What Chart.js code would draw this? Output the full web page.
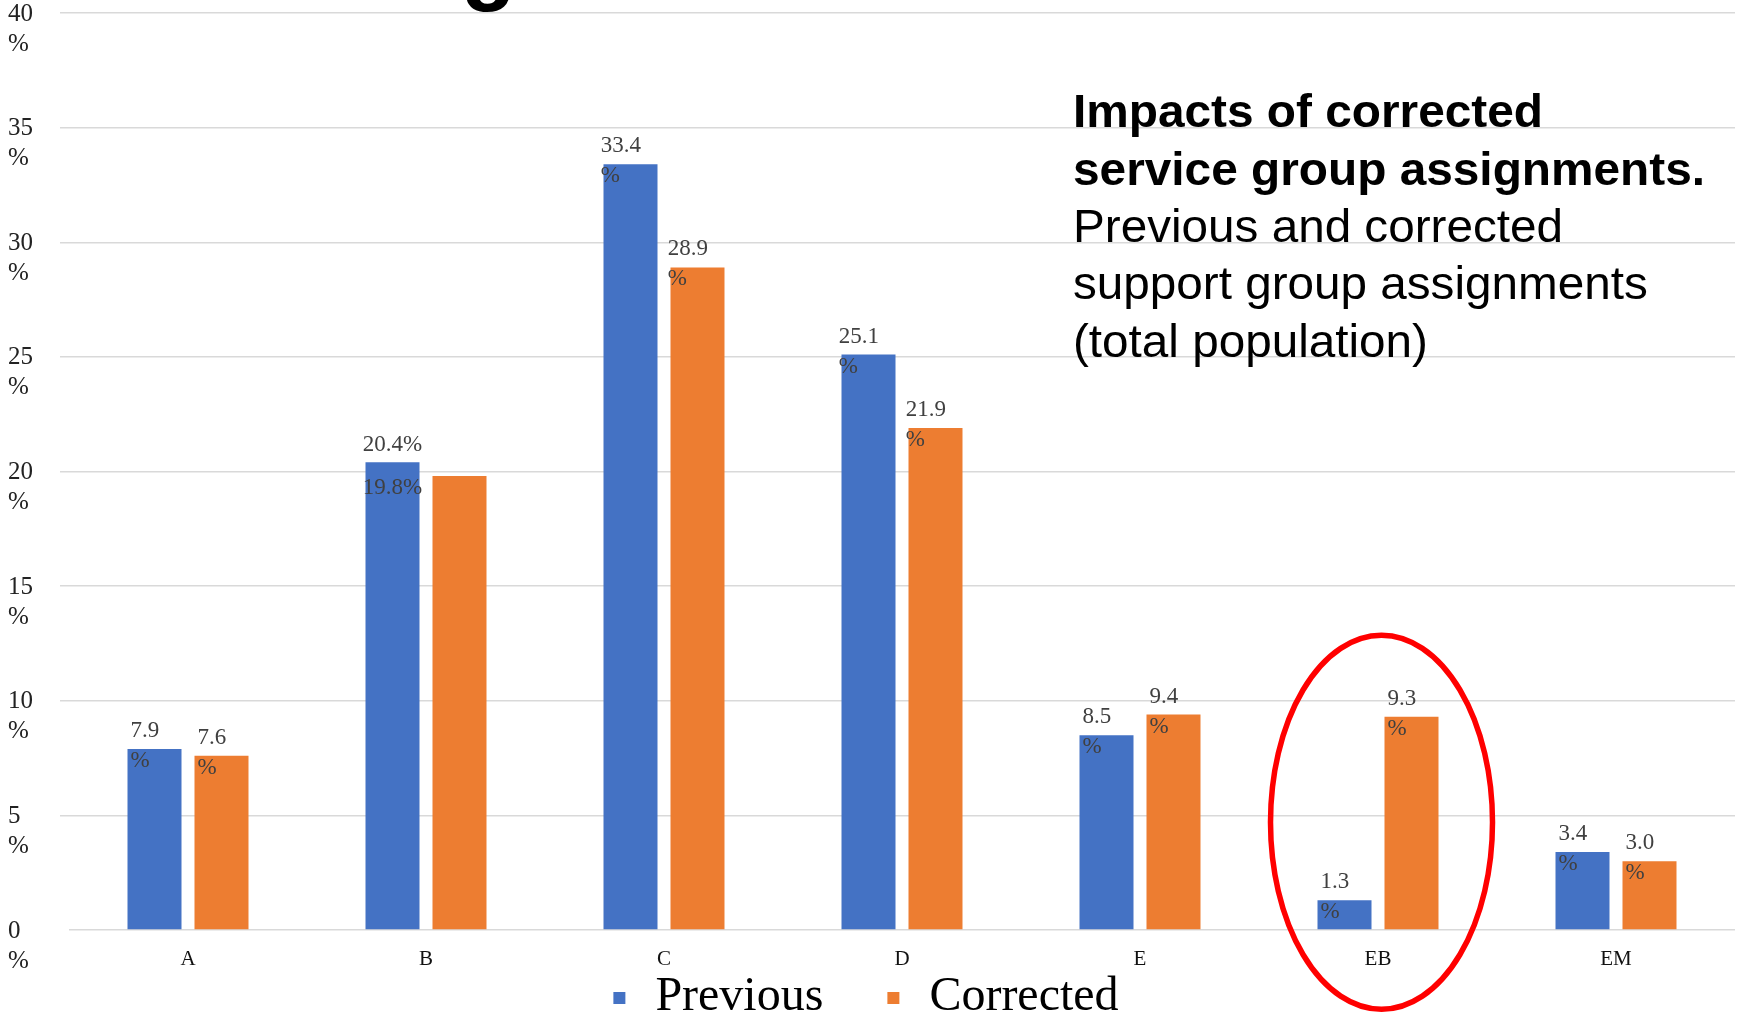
<!DOCTYPE html>
<html><head><meta charset="utf-8">
<script src="https://cdn.jsdelivr.net/npm/chart.js@4/dist/chart.umd.min.js"></script>
<style>html,body{margin:0;padding:0;background:#fff;overflow:hidden}</style>
</head><body>
<canvas id="c" width="1738" height="1016"></canvas>
<script>
const categories = ['A', 'B', 'C', 'D', 'E', 'EB', 'EM'];
const previousValues = [7.9, 20.4, 33.4, 25.1, 8.5, 1.3, 3.4];
const correctedValues = [7.6, 19.8, 28.9, 21.9, 9.4, 9.3, 3.0];
const seriesNames = ['Previous', 'Corrected'];
const yMin = 0, yMax = 40, yStep = 5;
const annotationBold = ['Impacts of corrected', 'service group assignments.'];
const annotationNormal = ['Previous and corrected', 'support group assignments', '(total population)'];
const titleFragment = 'g';
const highlightCategory = 'EB';
const singleLineLabelCategories = ['B'];

const BLUE = '#4472C4', ORANGE = '#ED7D31';

const dataLabelPlugin = {
  id: 'dataLabels',
  afterDatasetsDraw(chart) {
    const ctx = chart.ctx;
    ctx.save();
    ctx.font = '23px "Liberation Serif"';
    ctx.fillStyle = '#404040';
    ctx.textAlign = 'left';
    ctx.textBaseline = 'alphabetic';
    chart.data.datasets.forEach((ds, di) => {
      const meta = chart.getDatasetMeta(di);
      meta.data.forEach((bar, i) => {
        const v = ds.data[i];
        const num = v.toFixed(1);
        const full = num + '%';
        const w = ctx.measureText(full).width;
        if (singleLineLabelCategories.includes(categories[i])) {
          if (di === 0) {
            ctx.fillText(full, bar.x - w / 2, bar.y - 11);
          } else {
            const ref = chart.getDatasetMeta(0).data[i];
            ctx.fillText(full, ref.x - w / 2, bar.y + 18);
          }
        } else {
          ctx.fillText(num, bar.x - w / 2, bar.y - 12);
          ctx.fillText('%', bar.x - w / 2, bar.y + 18);
        }
      });
    });
    ctx.restore();
  }
};

const decorPlugin = {
  id: 'decor',
  afterDraw(chart) {
    const ctx = chart.ctx;
    const xs = chart.scales.x, ys = chart.scales.y;
    ctx.save();
    // cut-off title fragment
    ctx.fillStyle = '#000';
    ctx.font = 'bold 90px "Liberation Sans"';
    ctx.textBaseline = 'alphabetic';
    ctx.textAlign = 'left';
    ctx.fillText(titleFragment, 461, -7);

    // annotation text (condensed)
    const ax = 1073;
    const baselines = [127, 185, 242, 299, 357];
    ctx.font = 'bold 46px "Liberation Sans"';
    const sxB = 470 / ctx.measureText(annotationBold[0]).width;
    annotationBold.forEach((t, k) => {
      ctx.save(); ctx.translate(ax, baselines[k]); ctx.scale(sxB, 1); ctx.fillText(t, 0, 0); ctx.restore();
    });
    ctx.font = '46px "Liberation Sans"';
    const sxN = 490 / ctx.measureText(annotationNormal[0]).width;
    annotationNormal.forEach((t, k) => {
      ctx.save(); ctx.translate(ax, baselines[k + 2]); ctx.scale(sxN, 1); ctx.fillText(t, 0, 0); ctx.restore();
    });

    // highlight ellipse
    const idx = categories.indexOf(highlightCategory);
    const cx = xs.getPixelForValue(idx) + 3.5;
    const cy = ys.getPixelForValue(4.7);
    ctx.beginPath();
    ctx.ellipse(cx, cy, 111, 187, 0, 0, Math.PI * 2);
    ctx.strokeStyle = '#FF0000';
    ctx.lineWidth = 5.5;
    ctx.stroke();

    // legend
    ctx.font = '48px "Liberation Serif"';
    const box = 12, gapText = 30, gapItem = 64;
    const items = chart.data.datasets.map(d => ({ text: d.label, color: d.backgroundColor, w: ctx.measureText(d.label).width }));
    const total = items.reduce((s, it) => s + box + gapText + it.w, 0) + gapItem * (items.length - 1);
    let lx = 866 - total / 2;
    const ly = 1010;
    items.forEach(it => {
      ctx.fillStyle = it.color;
      ctx.fillRect(lx, ly - 18, box, box);
      ctx.fillStyle = '#000';
      ctx.fillText(it.text, lx + box + gapText, ly);
      lx += box + gapText + it.w + gapItem;
    });
    ctx.restore();
  }
};

new Chart(document.getElementById('c'), {
  type: 'bar',
  data: {
    labels: categories,
    datasets: [
      { label: seriesNames[0], data: previousValues, backgroundColor: BLUE, categoryPercentage: 0.563, barPercentage: 0.806 },
      { label: seriesNames[1], data: correctedValues, backgroundColor: ORANGE, categoryPercentage: 0.563, barPercentage: 0.806 }
    ]
  },
  options: {
    responsive: false,
    animation: false,
    devicePixelRatio: 1,
    layout: { padding: { top: 13, left: 8, right: 3, bottom: 0 } },
    plugins: { legend: { display: false }, tooltip: { enabled: false } },
    scales: {
      x: {
        grid: { display: false, drawTicks: false },
        border: { display: false },
        ticks: { font: { family: 'Liberation Serif', size: 21 }, color: '#111', padding: 17, maxRotation: 0, autoSkip: false },
        afterFit(s) { s.height = 86; s.paddingLeft = 0; s.paddingRight = 0; }
      },
      y: {
        min: yMin, max: yMax,
        ticks: {
          stepSize: yStep,
          callback: v => [String(v), '%'],
          font: { family: 'Liberation Serif', size: 25, lineHeight: 1.2 },
          color: '#222',
          crossAlign: 'far',
          labelOffset: 16,
          padding: 0
        },
        grid: {
          color: '#d9d9d9', lineWidth: 1.5, tickLength: 9, drawTicks: true,
          tickColor: c => (c.tick && c.tick.value === 0) ? 'rgba(0,0,0,0)' : '#d9d9d9'
        },
        border: { display: false },
        afterFit(s) { s.width = 61; s.paddingTop = 0; s.paddingBottom = 0; }
      }
    }
  },
  plugins: [dataLabelPlugin, decorPlugin]
});
</script>
</body></html>
